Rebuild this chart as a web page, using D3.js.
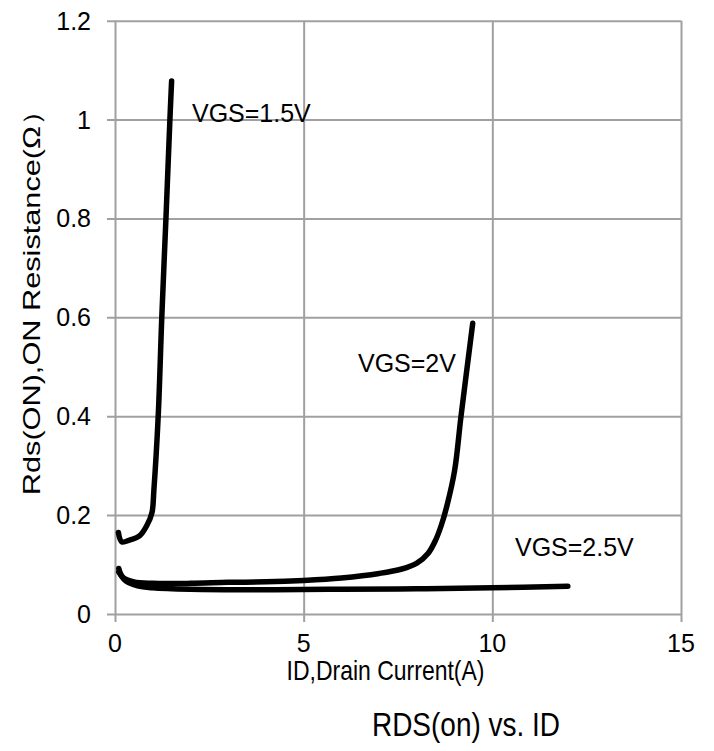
<!DOCTYPE html>
<html>
<head>
<meta charset="utf-8">
<script src="https://cdn.jsdelivr.net/npm/d3@7"></script>
<style>
  html, body { margin: 0; padding: 0; background: #fff; }
  text { font-family: "Liberation Sans", Arial, sans-serif; fill: #000; }
</style>
</head>
<body>
<svg id="chart" width="714" height="751"></svg>
<script>
// ---- data ----
const xTicks = [0, 5, 10, 15];
const yTicks = [0, 0.2, 0.4, 0.6, 0.8, 1, 1.2];
const yTickLabels = ["0", "0.2", "0.4", "0.6", "0.8", "1", "1.2"];

const vgs15_x = [0.09, 0.18, 0.4, 0.65, 0.85, 0.98, 1.03, 1.145, 1.24, 1.35, 1.455, 1.5];
const vgs15_y = [0.165, 0.146, 0.150, 0.158, 0.180, 0.205, 0.25, 0.40, 0.60, 0.80, 1.00, 1.078];

const vgs2_x = [0.1, 0.2, 0.5, 1, 2, 3, 4, 5, 6, 7, 7.6, 8.0, 8.3, 8.5, 8.65, 8.8, 9.0, 9.17, 9.48];
const vgs2_y = [0.092, 0.075, 0.065, 0.062, 0.062, 0.064, 0.065, 0.068, 0.073, 0.082, 0.091, 0.103, 0.123, 0.150, 0.180, 0.220, 0.290, 0.400, 0.588];

const vgs25_x = [0.1, 0.3, 0.6, 1, 2, 4, 6, 8, 10, 12];
const vgs25_y = [0.085, 0.066, 0.057, 0.053, 0.050, 0.049, 0.050, 0.051, 0.053, 0.056];

const seriesLabels = ["VGS=1.5V", "VGS=2V", "VGS=2.5V"];
const labelAnchors = [[2.04, 0.995], [6.44, 0.489], [10.6, 0.117]];

const xTitle = "ID,Drain Current(A)";
const yTitle = "Rds(ON),ON Resistance(Ω）";
const chartTitle = "RDS(on) vs. ID";

// ---- drawing ----
const svg = d3.select("#chart");
const x = d3.scaleLinear().domain([0, 15]).range([115, 681]);
const y = d3.scaleLinear().domain([0, 1.2]).range([614, 20.7]);
const gridColor = "#a0a0a0";

// vertical gridlines + x ticks
const xAxis = d3.axisBottom(x).tickValues(xTicks).tickSize(-(614 - 20.7)).tickFormat("");
const gx = svg.append("g").attr("transform", "translate(0,614)").call(xAxis);
gx.select(".domain").remove();
gx.selectAll(".tick line").attr("stroke", gridColor).attr("stroke-width", 2).attr("y2", -(614 - 20.7)).attr("y1", 8);

// horizontal gridlines + y ticks
const yAxis = d3.axisLeft(y).tickValues(yTicks).tickSize(-(681 - 115)).tickFormat("");
const gy = svg.append("g").attr("transform", "translate(115,0)").call(yAxis);
gy.select(".domain").remove();
gy.selectAll(".tick line").attr("stroke", gridColor).attr("stroke-width", 2).attr("x1", -8).attr("x2", 681 - 115);

// tick labels
svg.append("g").selectAll("text").data(xTicks).join("text")
  .attr("transform", d => `translate(${x(d)},652) scale(1,1.05)`)
  .attr("text-anchor", "middle").attr("font-size", 25)
  .text(d => d);
svg.append("g").selectAll("text").data(yTicks).join("text")
  .attr("transform", d => `translate(91,${y(d) + 9}) scale(1,1.05)`)
  .attr("text-anchor", "end").attr("font-size", 25)
  .text((d, i) => yTickLabels[i]);

// lines
const line = d3.line().x(d => x(d[0])).y(d => y(d[1])).curve(d3.curveCatmullRom.alpha(0.5));
const series = [
  d3.zip(vgs25_x, vgs25_y),
  d3.zip(vgs2_x, vgs2_y),
  d3.zip(vgs15_x, vgs15_y)
];
svg.append("g").selectAll("path").data(series).join("path")
  .attr("d", line)
  .attr("fill", "none").attr("stroke", "#000").attr("stroke-width", 5.5)
  .attr("stroke-linecap", "round").attr("stroke-linejoin", "round");

// annotations
svg.append("g").selectAll("text").data(seriesLabels).join("text")
  .attr("transform", (d, i) => `translate(${x(labelAnchors[i][0])},${y(labelAnchors[i][1])}) scale(1,1.06)`)
  .attr("font-size", 25)
  .text(d => d);

// axis titles
svg.append("text").attr("transform", "translate(385.5,680) scale(1,1.18)").attr("text-anchor", "middle").attr("font-size", 23).text(xTitle);
svg.append("text").attr("transform", "translate(40,295) rotate(-90) scale(1.28,1)").attr("text-anchor", "middle").attr("font-size", 24).text(yTitle);
svg.append("text").attr("transform", "translate(466,736) scale(1,1.18)").attr("text-anchor", "middle").attr("font-size", 28).text(chartTitle);
</script>
</body>
</html>
